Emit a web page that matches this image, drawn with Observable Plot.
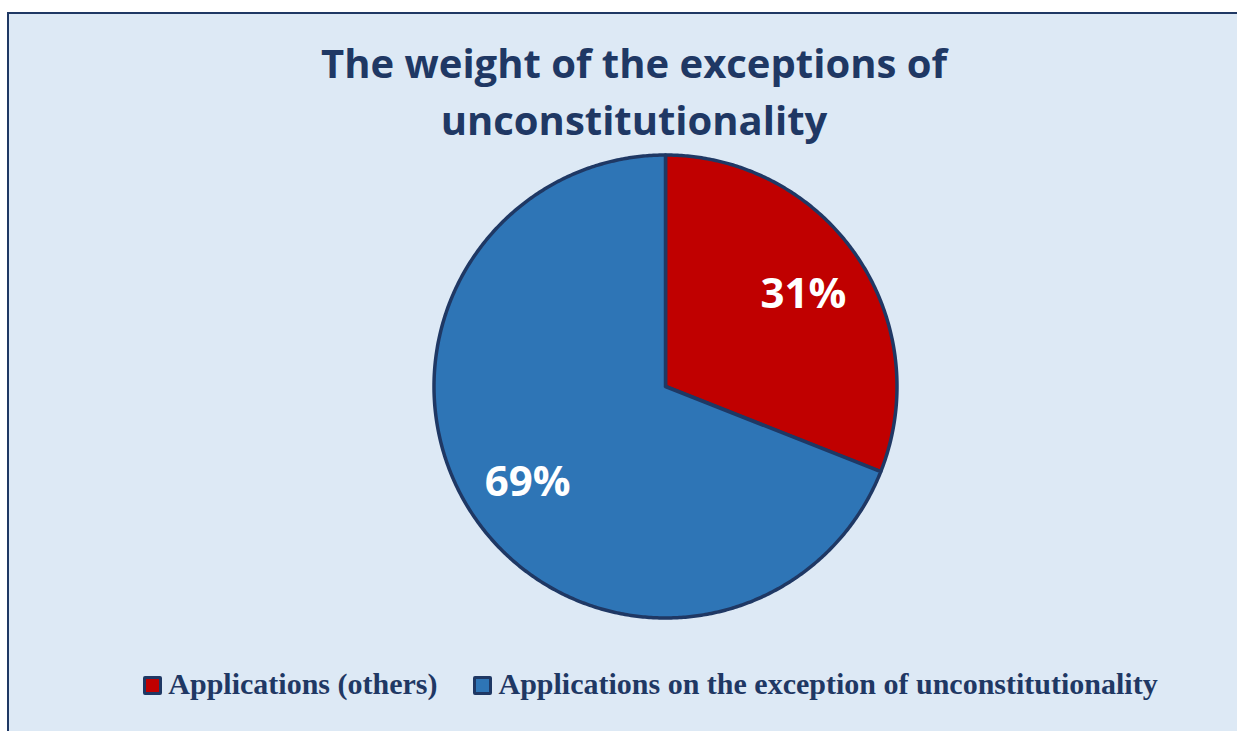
<!DOCTYPE html>
<html>
<head>
<meta charset="utf-8">
<script src="https://cdn.jsdelivr.net/npm/d3@7"></script>
<script src="https://cdn.jsdelivr.net/npm/@observablehq/plot@0.6"></script>
<style>
  html, body { margin: 0; padding: 0; background: #ffffff; width: 1237px; height: 731px; overflow: hidden; }
  #frame { position: absolute; left: 7px; top: 12px; width: 1260px; height: 740px; background: #dde9f5;
           border-left: 2px solid #1f3864; border-top: 2px solid #1f3864; }
  #title { position: absolute; left: 0; width: 1268px; top: 34px; text-align: center;
           font-family: "Open Sans", Lato, sans-serif; font-weight: 700; font-size: 40px; line-height: 57px; color: #1f3864; }
  #chart { position: absolute; left: 0; top: 140px; }
  #legend { position: absolute; left: 0; width: 1301px; top: 667px; text-align: center; white-space: nowrap;
            font-family: "Liberation Serif", serif; font-weight: 700; font-size: 30px; line-height: 34px; color: #1f3864; }
  .item { display: inline-block; margin: 0 18px; }
  .sw { display: inline-block; width: 13px; height: 13px; border: 3px solid #1f3864; border-radius: 2px; margin-right: 6px; vertical-align: -1px; }
</style>
</head>
<body>
<div id="frame"></div>
<div id="title">The weight of the exceptions of<br>unconstitutionality</div>
<div id="chart"></div>
<div id="legend"></div>
<script>
const categories = ["Applications (others)", "Applications on the exception of unconstitutionality"];
const values = [31, 69];
const colors = ["#c00000", "#2e75b6"];
const labels = ["31%", "69%"];

const arcs = d3.pie().sort(null)(values);
const slicePoints = arcs.flatMap((a, i) => {
  const cat = categories[i];
  const pts = [{cat, x: 0, y: 0}];
  const n = Math.ceil((a.endAngle - a.startAngle) / (Math.PI / 360));
  for (let k = 0; k <= n; k++) {
    const t = a.startAngle + (a.endAngle - a.startAngle) * k / n;
    pts.push({cat, x: Math.sin(t), y: Math.cos(t)});
  }
  pts.push({cat, x: 0, y: 0});
  return pts;
});
const labelData = arcs.map((a, i) => {
  const m = (a.startAngle + a.endAngle) / 2;
  return {x: 0.72 * Math.sin(m), y: 0.72 * Math.cos(m), text: labels[i]};
});

const R = 231.5, cx = 665, cy = 246;
const plot = Plot.plot({
  width: 1237, height: 490,
  margin: 0,
  x: {domain: [-1, 1], range: [cx - R, cx + R], axis: null},
  y: {domain: [-1, 1], range: [cy + R, cy - R], axis: null},
  color: {domain: categories, range: colors},
  style: {background: "transparent", overflow: "visible"},
  marks: [
    Plot.line(slicePoints, {x: "x", y: "y", z: "cat", fill: "cat", stroke: "#1f3864", strokeWidth: 3.5, strokeLinejoin: "round", curve: "linear"}),
    Plot.text(labelData, {x: "x", y: "y", dy: 2, text: "text", fill: "white", fontSize: 42, fontWeight: "bold", fontFamily: "'Open Sans', Lato, sans-serif"})
  ]
});
document.getElementById("chart").appendChild(plot);

const legend = document.getElementById("legend");
categories.forEach((c, i) => {
  const item = document.createElement("span");
  item.className = "item";
  const sw = document.createElement("span");
  sw.className = "sw";
  sw.style.background = colors[i];
  item.appendChild(sw);
  item.appendChild(document.createTextNode(c));
  legend.appendChild(item);
});
</script>
</body>
</html>
